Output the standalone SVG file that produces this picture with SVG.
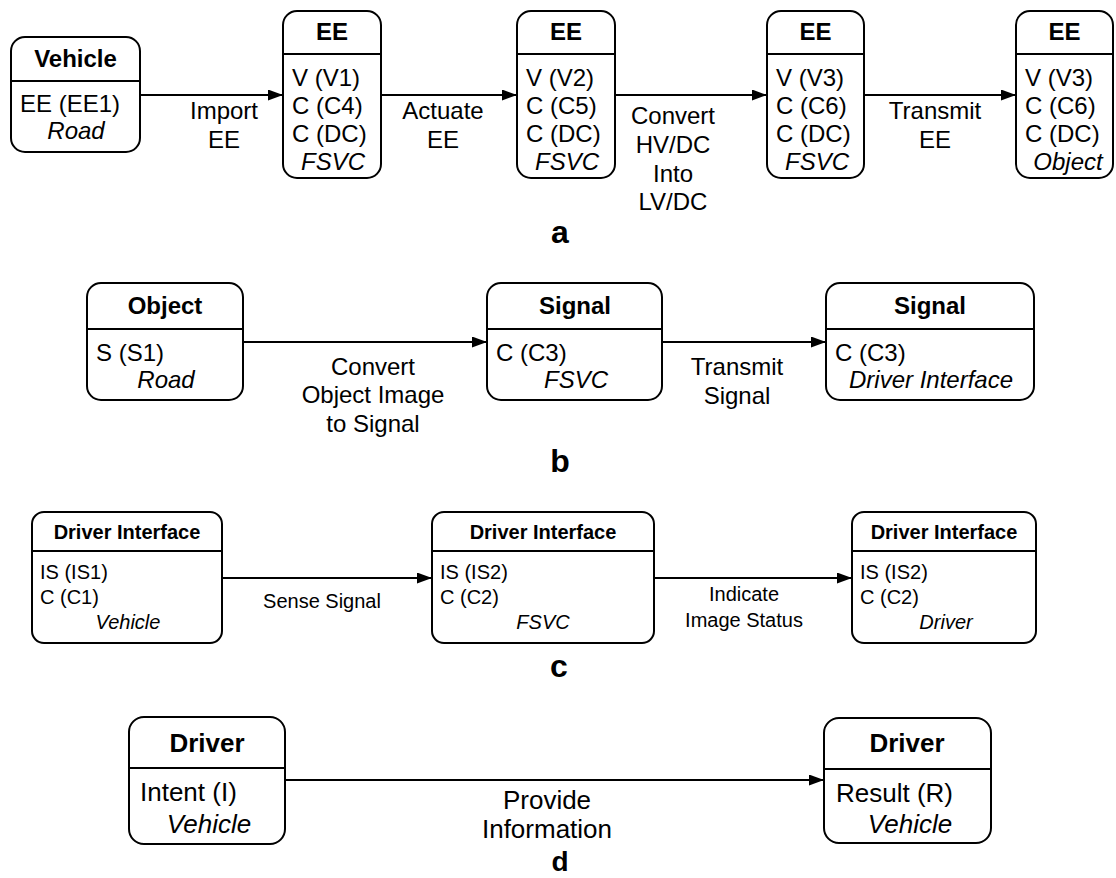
<svg xmlns="http://www.w3.org/2000/svg" width="1116" height="878" viewBox="0 0 1116 878">
  <defs>
    <marker id="arrow" viewBox="0 0 15 11" refX="15" refY="5.5" markerWidth="15" markerHeight="11" markerUnits="userSpaceOnUse" orient="auto">
      <path d="M0,0 L15,5.5 L0,11 z" fill="#000"/>
    </marker>
  </defs>
  <style>
    text { font-family: "Liberation Sans", Arial, sans-serif; fill: #000; }
    .box { fill: #fff; stroke: #000; stroke-width: 2; }
    .div { stroke: #000; stroke-width: 2; }
    .edge { stroke: #000; stroke-width: 2; fill: none; marker-end: url(#arrow); }
    .t24 { font-size: 24px; font-weight: bold; text-anchor: middle; }
    .b24 { font-size: 24px; }
    .t20 { font-size: 20px; font-weight: bold; text-anchor: middle; }
    .b20 { font-size: 20px; }
    .t26 { font-size: 26px; font-weight: bold; text-anchor: middle; }
    .b26 { font-size: 26px; }
    .it { font-style: italic; text-anchor: middle; }
    .lbl { text-anchor: middle; }
    .cap { font-size: 32px; font-weight: bold; text-anchor: middle; }
    .capd { font-size: 28px; font-weight: bold; text-anchor: middle; }
  </style>

  <!-- connectors -->
  <g id="connectors">
    <line class="edge" x1="140" y1="95" x2="283" y2="95"/>
    <line class="edge" x1="381" y1="95" x2="517" y2="95"/>
    <line class="edge" x1="615" y1="95" x2="767" y2="95"/>
    <line class="edge" x1="864" y1="95" x2="1016" y2="95"/>
    <line class="edge" x1="243" y1="342" x2="487" y2="342"/>
    <line class="edge" x1="662" y1="342" x2="826" y2="342"/>
    <line class="edge" x1="222" y1="578" x2="432" y2="578"/>
    <line class="edge" x1="654" y1="578" x2="852" y2="578"/>
    <line class="edge" x1="285" y1="780" x2="824" y2="780"/>
  </g>

  <!-- connector labels -->
  <g id="edge-labels">
    <text class="b24 lbl" x="224" y="119">Import</text>
    <text class="b24 lbl" x="224" y="148">EE</text>
    <text class="b24 lbl" x="443" y="119">Actuate</text>
    <text class="b24 lbl" x="443" y="148">EE</text>
    <text class="b24 lbl" x="673" y="124">Convert</text>
    <text class="b24 lbl" x="673" y="153">HV/DC</text>
    <text class="b24 lbl" x="673" y="182">Into</text>
    <text class="b24 lbl" x="673" y="210">LV/DC</text>
    <text class="b24 lbl" x="935" y="119">Transmit</text>
    <text class="b24 lbl" x="935" y="148">EE</text>

    <text class="b24 lbl" x="373" y="375">Convert</text>
    <text class="b24 lbl" x="373" y="403">Object Image</text>
    <text class="b24 lbl" x="373" y="432">to Signal</text>
    <text class="b24 lbl" x="737" y="375">Transmit</text>
    <text class="b24 lbl" x="737" y="404">Signal</text>

    <text class="b20 lbl" x="322" y="608">Sense Signal</text>
    <text class="b20 lbl" x="744" y="601">Indicate</text>
    <text class="b20 lbl" x="744" y="627">Image Status</text>

    <text class="b26 lbl" x="547" y="809">Provide</text>
    <text class="b26 lbl" x="547" y="838">Information</text>
  </g>

  <!-- row a -->
  <g id="a-vehicle">
    <rect class="box" x="11" y="37" width="129" height="115" rx="14"/>
    <line class="div" x1="11" y1="81" x2="140" y2="81"/>
    <text class="t24" x="75.5" y="67">Vehicle</text>
    <text class="b24" x="20" y="112">EE (EE1)</text>
    <text class="b24 it" x="76" y="139">Road</text>
  </g>
  <g id="a-ee1">
    <rect class="box" x="283" y="11" width="98" height="167" rx="14"/>
    <line class="div" x1="283" y1="54" x2="381" y2="54"/>
    <text class="t24" x="332" y="40">EE</text>
    <text class="b24" x="292" y="86">V (V1)</text>
    <text class="b24" x="292" y="114">C (C4)</text>
    <text class="b24" x="292" y="142">C (DC)</text>
    <text class="b24 it" x="333" y="170">FSVC</text>
  </g>
  <g id="a-ee2">
    <rect class="box" x="517" y="11" width="98" height="167" rx="14"/>
    <line class="div" x1="517" y1="54" x2="615" y2="54"/>
    <text class="t24" x="566" y="40">EE</text>
    <text class="b24" x="526" y="86">V (V2)</text>
    <text class="b24" x="526" y="114">C (C5)</text>
    <text class="b24" x="526" y="142">C (DC)</text>
    <text class="b24 it" x="567" y="170">FSVC</text>
  </g>
  <g id="a-ee3">
    <rect class="box" x="767" y="11" width="97" height="167" rx="14"/>
    <line class="div" x1="767" y1="54" x2="864" y2="54"/>
    <text class="t24" x="815.5" y="40">EE</text>
    <text class="b24" x="776" y="86">V (V3)</text>
    <text class="b24" x="776" y="114">C (C6)</text>
    <text class="b24" x="776" y="142">C (DC)</text>
    <text class="b24 it" x="817" y="170">FSVC</text>
  </g>
  <g id="a-ee4">
    <rect class="box" x="1016" y="11" width="97" height="167" rx="14"/>
    <line class="div" x1="1016" y1="54" x2="1113" y2="54"/>
    <text class="t24" x="1064.5" y="40">EE</text>
    <text class="b24" x="1025" y="86">V (V3)</text>
    <text class="b24" x="1025" y="114">C (C6)</text>
    <text class="b24" x="1025" y="142">C (DC)</text>
    <text class="b24 it" x="1068" y="170">Object</text>
  </g>
  <text class="cap" x="560" y="243">a</text>

  <!-- row b -->
  <g id="b-object">
    <rect class="box" x="87" y="283" width="156" height="117" rx="14"/>
    <line class="div" x1="87" y1="329" x2="243" y2="329"/>
    <text class="t24" x="165" y="314">Object</text>
    <text class="b24" x="96" y="361">S (S1)</text>
    <text class="b24 it" x="166" y="388">Road</text>
  </g>
  <g id="b-signal1">
    <rect class="box" x="487" y="283" width="175" height="117" rx="14"/>
    <line class="div" x1="487" y1="329" x2="662" y2="329"/>
    <text class="t24" x="575" y="314">Signal</text>
    <text class="b24" x="496" y="361">C (C3)</text>
    <text class="b24 it" x="576" y="388">FSVC</text>
  </g>
  <g id="b-signal2">
    <rect class="box" x="826" y="283" width="208" height="117" rx="14"/>
    <line class="div" x1="826" y1="329" x2="1034" y2="329"/>
    <text class="t24" x="930" y="314">Signal</text>
    <text class="b24" x="835" y="361">C (C3)</text>
    <text class="b24 it" x="931" y="388">Driver Interface</text>
  </g>
  <text class="cap" x="560" y="472">b</text>

  <!-- row c -->
  <g id="c-di1">
    <rect class="box" x="32" y="512" width="190" height="131" rx="12"/>
    <line class="div" x1="32" y1="551" x2="222" y2="551"/>
    <text class="t20" x="127" y="539">Driver Interface</text>
    <text class="b20" x="40" y="579">IS (IS1)</text>
    <text class="b20" x="40" y="604">C (C1)</text>
    <text class="b20 it" x="128" y="629">Vehicle</text>
  </g>
  <g id="c-di2">
    <rect class="box" x="432" y="512" width="222" height="131" rx="12"/>
    <line class="div" x1="432" y1="551" x2="654" y2="551"/>
    <text class="t20" x="543" y="539">Driver Interface</text>
    <text class="b20" x="440" y="579">IS (IS2)</text>
    <text class="b20" x="440" y="604">C (C2)</text>
    <text class="b20 it" x="543" y="629">FSVC</text>
  </g>
  <g id="c-di3">
    <rect class="box" x="852" y="512" width="184" height="131" rx="12"/>
    <line class="div" x1="852" y1="551" x2="1036" y2="551"/>
    <text class="t20" x="944" y="539">Driver Interface</text>
    <text class="b20" x="860" y="579">IS (IS2)</text>
    <text class="b20" x="860" y="604">C (C2)</text>
    <text class="b20 it" x="946" y="629">Driver</text>
  </g>
  <text class="cap" x="559" y="677">c</text>

  <!-- row d -->
  <g id="d-driver1">
    <rect class="box" x="129" y="717" width="156" height="127" rx="15"/>
    <line class="div" x1="129" y1="768" x2="285" y2="768"/>
    <text class="t26" x="207" y="752">Driver</text>
    <text class="b26" x="140" y="801">Intent (I)</text>
    <text class="b26 it" x="209" y="833">Vehicle</text>
  </g>
  <g id="d-driver2">
    <rect class="box" x="824" y="718" width="167" height="125" rx="15"/>
    <line class="div" x1="824" y1="769" x2="991" y2="769"/>
    <text class="t26" x="907" y="752">Driver</text>
    <text class="b26" x="836" y="802">Result (R)</text>
    <text class="b26 it" x="910" y="833">Vehicle</text>
  </g>
  <text class="capd" x="560" y="871">d</text>
</svg>
